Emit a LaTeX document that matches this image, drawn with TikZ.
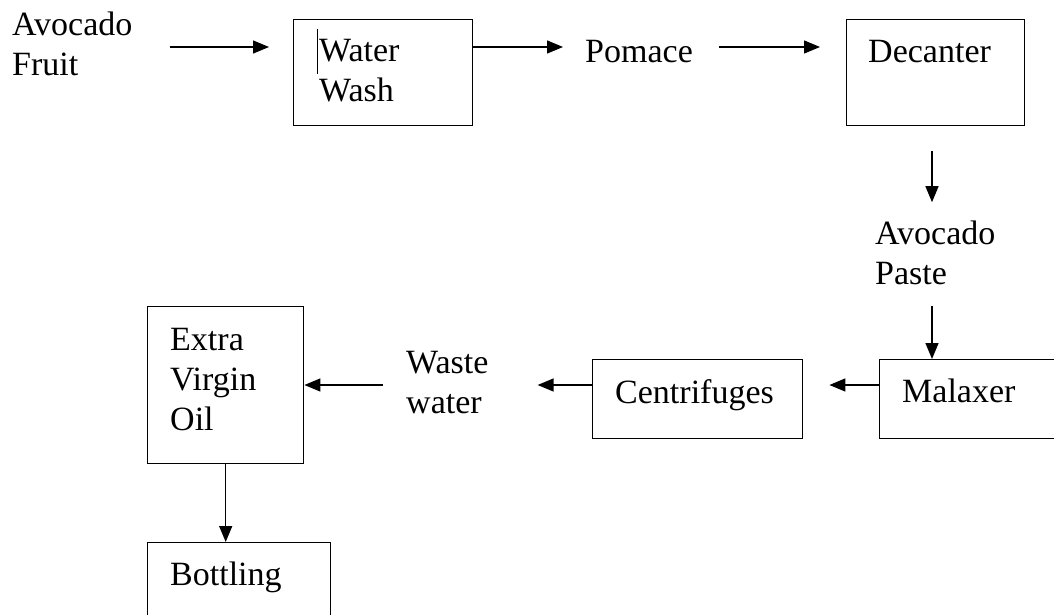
\documentclass[tikz,border=0pt]{standalone}
\usepackage{fontspec}
\setmainfont{Liberation Serif}
\usetikzlibrary{positioning, arrows.meta, calc}

\begin{document}
\begin{tikzpicture}[
    x=1pt, y=-1pt,
    >={Triangle[length=16pt, width=13pt]}, % filled arrow heads
    % Styles
    box/.style={ % Process box
        rectangle,
        draw,
        line width=1.4pt,
        inner sep=0pt,
        anchor=north west
    },
    txt/.style={ % Text of a step, placed at its last baseline
        align=left,
        inner sep=0pt,
        anchor=base west,
        font=\fontsize{34}{40}\selectfont
    },
    arrow/.style={
        ->,
        line width=1.4pt
    }
]
    \clip (0,0) rectangle (1054,615);

    % Rows and columns of the arrows
    \coordinate (row1) at (0,47);
    \coordinate (row3) at (0,385);
    \coordinate (col) at (932,0);

    % Boxes
    \node[box, minimum width=179pt, minimum height=106pt] (wash) at (293,19) {};
    \node[box, minimum width=178pt, minimum height=106pt] (decanter) at (846,19) {};
    \node[box, minimum width=210pt, minimum height=79pt] (malaxer) at (879,359) {};
    \node[box, minimum width=210pt, minimum height=79pt] (centrifuge) at (592,359) {};
    \node[box, minimum width=156pt, minimum height=157pt] (oil) at (147,306) {};
    \node[box, minimum width=183pt, minimum height=100pt] (bottling) at (147,542) {};

    % Texts
    \node[txt] (fruit) at (12,76) {Avocado\\Fruit};
    \node[txt] (washtxt) at ([shift={(26,83)}]wash.north west) {Water\\Wash};
    \node[txt] (pomace) at (585,63) {Pomace};
    \node[txt] (decantertxt) at ([shift={(22,44)}]decanter.north west) {Decanter};
    \node[txt] (paste) at (875,284) {Avocado\\Paste};
    \node[txt] (malaxertxt) at ([shift={(23,43)}]malaxer.north west) {Malaxer};
    \node[txt] (centrifugetxt) at ([shift={(23,44)}]centrifuge.north west) {Centrifuges};
    \node[txt] (waste) at (406,413) {Waste\\water};
    \node[txt] (oiltxt) at ([shift={(23,124)}]oil.north west) {Extra\\Virgin\\Oil};
    \node[txt] (bottlingtxt) at ([shift={(23,43)}]bottling.north west) {Bottling};

    % Text cursor left in the first box
    \draw[line width=0.8pt] ([shift={(24,10)}]wash.north west) -- ++(0,45);

    % Arrows
    \draw[arrow, shorten <=37pt, shorten >=24pt] (fruit.east |- row1) -- (wash.west |- row1);
    \draw[arrow, shorten >=22pt] (wash.east |- row1) -- (pomace.west |- row1);
    \draw[arrow, shorten <=26pt, shorten >=26pt] (pomace.east |- row1) -- (decanter.west |- row1);
    \draw[arrow, shorten <=25pt, shorten >=18pt] (decanter.south -| col) -- (paste.north -| col);
    \draw[arrow, shorten <=21pt] (paste.south -| col) -- (malaxer.north -| col);
    \draw[arrow, shorten >=26pt] (malaxer.west |- row3) -- (centrifuge.east |- row3);
    \draw[arrow, shorten >=49pt] (centrifuge.west |- row3) -- (waste.east |- row3);
    \draw[arrow, shorten <=23pt] (waste.west |- row3) -- (oil.east |- row3);
    \draw[arrow] (oil.south) -- (bottling.north -| oil.south);
\end{tikzpicture}
\end{document}
